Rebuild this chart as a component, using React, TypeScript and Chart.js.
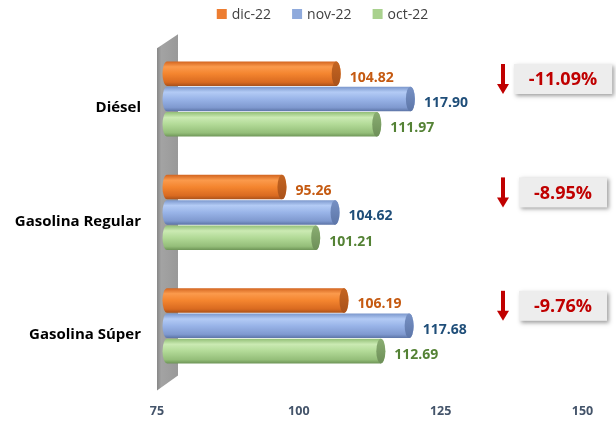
import React, { useEffect, useRef } from "react";
import { Chart, registerables } from "chart.js";

Chart.register(...registerables);

// ---- data ----
const categories = ["Diésel", "Gasolina Regular", "Gasolina Súper"];
const seriesLabels = ["dic-22", "nov-22", "oct-22"];
const dic22 = [104.82, 95.26, 106.19];
const nov22 = [117.9, 104.62, 117.68];
const oct22 = [111.97, 101.21, 112.69];
const changeLabels = ["-11.09%", "-8.95%", "-9.76%"];
const xTicks = [75, 100, 125, 150];
const xMin = 75;
const xMax = 150;

// ---- styles ----
const FONT = "'Open Sans', 'Noto Sans', sans-serif";
const seriesStyles = [
  {
    color: "#ED7D31",
    stops: ["#d2641f", "#fb9a4c", "#f4852f", "#d96a20", "#a9511a"],
    cap: ["#c46522", "#a9521a"],
    label: "#C55A11",
  },
  {
    color: "#8FAADC",
    stops: ["#7b97cc", "#b3cbf5", "#99b4e8", "#7f99cf", "#5c74a6"],
    cap: ["#7791c4", "#5d76a8"],
    label: "#1F4E79",
  },
  {
    color: "#A9D18E",
    stops: ["#93bf77", "#cbeab3", "#b2da97", "#94be79", "#6e9557"],
    cap: ["#8aad72", "#6d8f58"],
    label: "#548235",
  },
];

const DX = 10;
const DY = -9;
const RX = 4.5;

const cylinderPlugin = {
  id: "cylinders",
  beforeDatasetsDraw(chart: any) {
    const { ctx, chartArea } = chart;
    const L = chartArea.left;
    const T = chartArea.top;
    const B = chartArea.bottom;
    ctx.save();
    const g = ctx.createLinearGradient(L, 0, L + 21, 0);
    g.addColorStop(0, "#878787");
    g.addColorStop(0.2, "#a3a3a3");
    g.addColorStop(1, "#999999");
    ctx.fillStyle = g;
    ctx.beginPath();
    ctx.moveTo(L, T - 3);
    ctx.lineTo(L + 21, T - 17);
    ctx.lineTo(L + 21, B - 16);
    ctx.lineTo(L, B - 1);
    ctx.closePath();
    ctx.fill();
    ctx.restore();
  },
  beforeDatasetDraw() {
    return false;
  },
  afterDatasetsDraw(chart: any) {
    const { ctx, chartArea } = chart;
    ctx.save();
    chart.data.datasets.forEach((ds: any, i: number) => {
      const st = seriesStyles[i];
      const meta = chart.getDatasetMeta(i);
      meta.data.forEach((el: any, j: number) => {
        const { x, y, base, height } = el.getProps(["x", "y", "base", "height"], true);
        const h = height - 0.8;
        const cy = y + DY;
        const top = cy - h / 2;
        const bot = cy + h / 2;
        const xb = Math.max(base, chartArea.left) + DX;
        const xe = x + DX;
        const g = ctx.createLinearGradient(0, top, 0, bot);
        const pos = [0, 0.22, 0.5, 0.85, 1];
        st.stops.forEach((c: string, k: number) => g.addColorStop(pos[k], c));
        ctx.fillStyle = g;
        ctx.beginPath();
        ctx.moveTo(xb, top);
        ctx.lineTo(xe, top);
        ctx.ellipse(xe, cy, RX, h / 2, 0, -Math.PI / 2, Math.PI / 2);
        ctx.lineTo(xb, bot);
        ctx.ellipse(xb, cy, RX, h / 2, 0, Math.PI / 2, Math.PI * 1.5);
        ctx.closePath();
        ctx.fill();
        const cg = ctx.createLinearGradient(0, top, 0, bot);
        cg.addColorStop(0, st.cap[0]);
        cg.addColorStop(1, st.cap[1]);
        ctx.fillStyle = cg;
        ctx.beginPath();
        ctx.ellipse(xe, cy, RX, h / 2, 0, 0, Math.PI * 2);
        ctx.fill();
        // value label
        const v = ds.data[j] as number;
        ctx.fillStyle = st.label;
        ctx.font = `bold 14px ${FONT}`;
        ctx.textAlign = "left";
        ctx.textBaseline = "middle";
        ctx.fillText(v.toFixed(2), xe + RX + 9, y - 5);
      });
    });

    // change annotations
    const yScale = chart.scales.y;
    categories.forEach((_c, j) => {
      const cy = yScale.getPixelForValue(j) - 29;
      const txt = changeLabels[j];
      ctx.font = `bold 18px ${FONT}`;
      const tw = ctx.measureText(txt).width;
      const w = tw + 30;
      const h = 30;
      const cx = 563;
      ctx.save();
      ctx.shadowColor = "rgba(0,0,0,0.38)";
      ctx.shadowBlur = 4;
      ctx.shadowOffsetX = 2;
      ctx.shadowOffsetY = 2;
      ctx.fillStyle = "#EDEDED";
      ctx.fillRect(cx - w / 2, cy - h / 2, w, h);
      ctx.restore();
      ctx.fillStyle = "#C00000";
      ctx.textAlign = "center";
      ctx.textBaseline = "middle";
      ctx.fillText(txt, cx, cy + 1);
      // arrow
      const ax = 503;
      ctx.fillStyle = "#C00000";
      ctx.fillRect(ax - 2, cy - 15, 4, 21);
      ctx.beginPath();
      ctx.moveTo(ax - 6, cy + 5);
      ctx.lineTo(ax + 6, cy + 5);
      ctx.lineTo(ax, cy + 15);
      ctx.closePath();
      ctx.fill();
    });

    // legend
    ctx.font = `14px ${FONT}`;
    const widths = seriesLabels.map((s) => ctx.measureText(s).width);
    const box = 10;
    const gapBox = 5;
    const gapItem = 21;
    const total =
      widths.reduce((a, b) => a + b, 0) + seriesLabels.length * (box + gapBox) + gapItem * (seriesLabels.length - 1);
    let lx = 322.5 - total / 2;
    const ly = 14;
    seriesLabels.forEach((s, i) => {
      ctx.fillStyle = seriesStyles[i].color;
      ctx.fillRect(lx, ly - box / 2, box, box);
      ctx.fillStyle = "#404040";
      ctx.textAlign = "left";
      ctx.textBaseline = "middle";
      ctx.fillText(s, lx + box + gapBox, ly + 1);
      lx += box + gapBox + widths[i] + gapItem;
    });
    ctx.restore();
  },
};

export default function App() {
  const ref = useRef<HTMLCanvasElement | null>(null);
  useEffect(() => {
    if (!ref.current) return;
    const chart = new Chart(ref.current, {
      type: "bar",
      data: {
        labels: categories,
        datasets: [
          { label: seriesLabels[0], data: dic22, backgroundColor: seriesStyles[0].color, base: xMin },
          { label: seriesLabels[1], data: nov22, backgroundColor: seriesStyles[1].color, base: xMin },
          { label: seriesLabels[2], data: oct22, backgroundColor: seriesStyles[2].color, base: xMin },
        ],
      },
      options: {
        indexAxis: "y",
        responsive: false,
        animation: false,
        devicePixelRatio: 1,
        layout: { padding: { top: 51.3, right: 33.5, bottom: 0, left: 0 } },
        datasets: { bar: { categoryPercentage: 0.67, barPercentage: 1 } },
        plugins: { legend: { display: false }, tooltip: { enabled: false } },
        scales: {
          x: {
            min: xMin,
            max: xMax,
            afterBuildTicks: (s: any) => {
              s.ticks = xTicks.map((v) => ({ value: v }));
            },
            afterFit: (s: any) => {
              s.height = 424 - 391.5;
            },
            grid: { display: false, drawTicks: false },
            border: { display: false },
            ticks: { padding: 12, color: "#44546A", font: { family: FONT, size: 12.5, weight: "bold" } },
          },
          y: {
            afterFit: (s: any) => {
              s.width = 157;
            },
            grid: { display: false, drawTicks: false },
            border: { display: false },
            ticks: { padding: 16, color: "#000000", font: { family: FONT, size: 15, weight: "bold" } },
          },
        },
      },
      plugins: [cylinderPlugin],
    } as any);
    return () => chart.destroy();
  }, []);
  return (
    <div style={{ position: "absolute", left: 0, top: 0, width: 616, height: 424, background: "#fff" }}>
      <canvas ref={ref} width={616} height={424} style={{ display: "block" }} />
    </div>
  );
}
